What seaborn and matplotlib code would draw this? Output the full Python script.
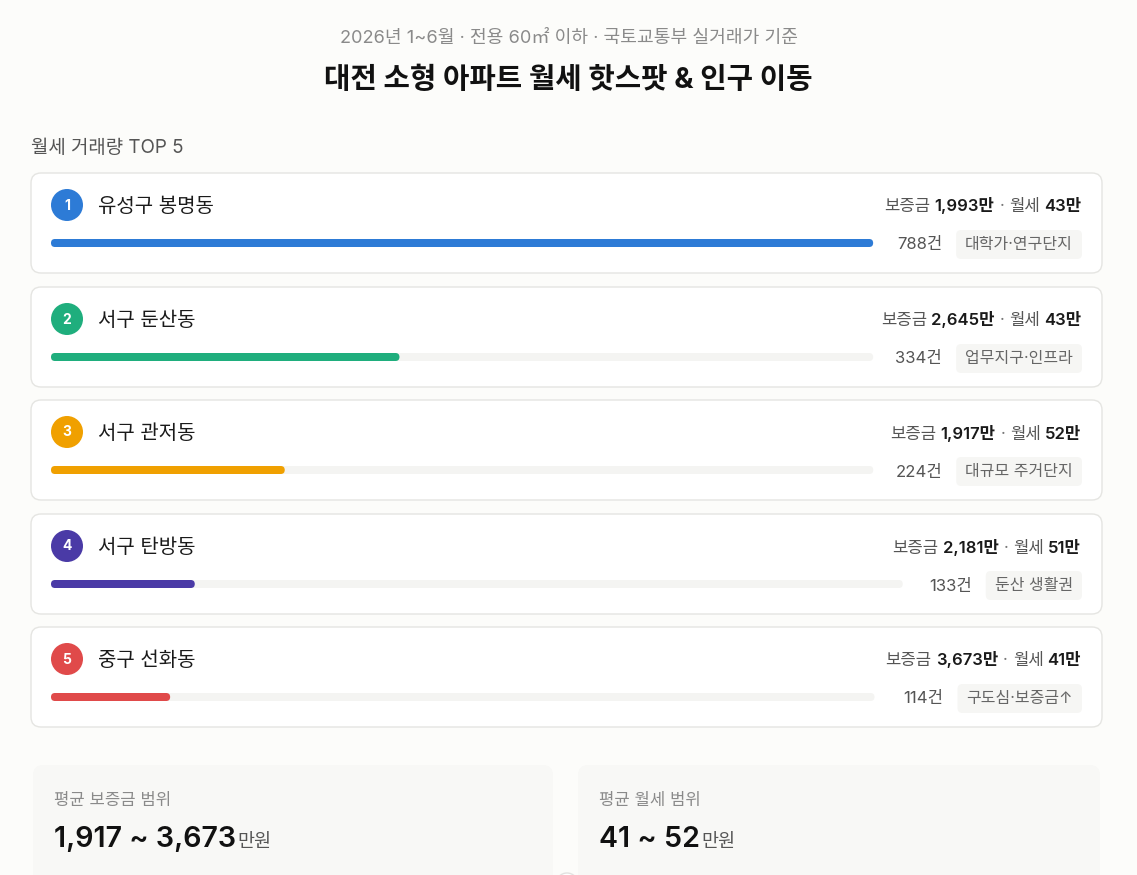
import matplotlib
matplotlib.use("Agg")
import matplotlib.pyplot as plt
from matplotlib.patches import FancyBboxPatch, Circle
import seaborn as sns

# ---------------- data ----------------
ranks = [1, 2, 3, 4, 5]
districts = ["유성구 봉명동", "서구 둔산동", "서구 관저동", "서구 탄방동", "중구 선화동"]
counts = [788, 334, 224, 133, 114]
deposits = [1993, 2645, 1917, 2181, 3673]
rents = [43, 43, 52, 51, 41]
tags = ["대학가·연구단지", "업무지구·인프라", "대규모 주거단지", "둔산 생활권", "구도심·보증금↑"]
colors = ["#2d7bd6", "#1fae7d", "#f0a000", "#4a3aa6", "#e04a4a"]

subtitle = "2026년 1~6월 · 전용 60㎡ 이하 · 국토교통부 실거래가 기준"
title = "대전 소형 아파트 월세 핫스팟 & 인구 이동"
section = "월세 거래량 TOP 5"

# ---------------- style ----------------
sns.set_theme(style="white")
plt.rcParams["font.family"] = ["Inter", "Noto Sans CJK KR", "DejaVu Sans"]

BG = "#fcfcfa"
W, H = 1137, 875
fig = plt.figure(figsize=(W / 100, H / 100), dpi=100)
fig.patch.set_facecolor(BG)
ax = fig.add_axes([0, 0, 1, 1])
ax.set_xlim(0, W)
ax.set_ylim(H, 0)
ax.axis("off")
ax.set_facecolor(BG)
renderer = fig.canvas.get_renderer()


def text_w(t):
    return t.get_window_extent(renderer).width


def rich(x, y, parts, align="right", va="baseline"):
    """parts: list of (text, color, weight, size, gap_after)"""
    if align == "right":
        cur = x
        n = len(parts)
        for i, (s, c, wt, sz, gap) in enumerate(reversed(parts)):
            t = ax.text(cur, y, s, ha="right", va=va, color=c, fontweight=wt, fontsize=sz)
            cur -= text_w(t) + (parts[n - 2 - i][4] if i < n - 1 else 0)
        return cur
    else:
        cur = x
        for s, c, wt, sz, gap in parts:
            t = ax.text(cur, y, s, ha="left", va=va, color=c, fontweight=wt, fontsize=sz)
            cur += text_w(t) + gap
        return cur


# header
ax.text(W / 2, 38, subtitle, ha="center", va="center", fontsize=13.1, color="#8a8a8a")
ax.text(W / 2, 80, title, ha="center", va="center", fontsize=20.7, color="#111111", fontweight="bold")
ax.text(31, 148, section, ha="left", va="center", fontsize=13.6, color="#555555")

card_tops = [173, 287, 400, 514, 627]
CARD_X, CARD_W, CARD_H = 31, 1071, 100
RIGHT = 1082
TRACK_X = 51
BAR_H = 8

for i in range(len(ranks)):
    top = card_tops[i]
    ax.add_patch(FancyBboxPatch((CARD_X, top), CARD_W, CARD_H,
                                boxstyle="round,pad=0,rounding_size=10",
                                facecolor="white", edgecolor="#e5e5e2", lw=1.0, zorder=1))
    # rank circle
    ax.add_patch(Circle((67, top + 32), 16, facecolor=colors[i], edgecolor="none", zorder=3))
    ax.text(67, top + 32.5, str(ranks[i]), ha="center", va="center", color="white",
            fontsize=10, fontweight="bold", zorder=4)
    ax.text(98, top + 33.5, districts[i], ha="left", va="center", fontsize=14.4,
            color="#1a1a1a", zorder=4)
    # right info
    parts = [("보증금", "#555555", "normal", 12, 4),
             (f"{deposits[i]:,}만", "#1a1a1a", "semibold", 12, 5),
             ("·", "#777777", "normal", 12, 5),
             ("월세", "#555555", "normal", 12, 4),
             (f"{rents[i]}만", "#1a1a1a", "semibold", 12, 0)]
    rich(RIGHT - 1, top + 38.5, parts, align="right")

    # tag box
    tt = ax.text(0, 0, tags[i], fontsize=11.5, color="#666666", ha="center", va="center", zorder=4)
    tw = text_w(tt) + 18
    tag_left = RIGHT - tw
    tt.set_position((tag_left + tw / 2, top + 71.5))
    ax.add_patch(FancyBboxPatch((tag_left, top + 57), tw, 29,
                                boxstyle="round,pad=0,rounding_size=5",
                                facecolor="#f6f6f4", edgecolor="none", zorder=2))
    # count
    ax.text(tag_left - 14, top + 72, f"{counts[i]}건", ha="right", va="center",
            fontsize=12, color="#555555", zorder=4)

    # bar track + value bar via seaborn
    track_end = tag_left - 83
    track_w = track_end - TRACK_X
    bax = fig.add_axes([TRACK_X / W, (H - (top + 70 + BAR_H / 2)) / H, track_w / W, BAR_H / H])
    bax.patch.set_alpha(0)
    sns.barplot(x=[counts[i]], y=[districts[i]], orient="h", color=colors[i],
                width=1.0, ax=bax, saturation=1)
    bax.set_xlim(0, max(counts))
    bax.set_ylim(0.5, -0.5)
    bax.axis("off")
    inv = ax.transData.inverted()
    # track
    ax.add_patch(FancyBboxPatch((TRACK_X, top + 70 - BAR_H / 2), track_w, BAR_H,
                                boxstyle=f"round,pad=0,rounding_size={BAR_H/2}",
                                facecolor="#f4f4f2", edgecolor="none", zorder=2))
    for p in list(bax.patches):
        bb = p.get_window_extent(renderer)
        (x0, y0), (x1, y1) = inv.transform([[bb.x0, bb.y0], [bb.x1, bb.y1]])
        ya, yb = min(y0, y1), max(y0, y1)
        ax.add_patch(FancyBboxPatch((x0, ya), x1 - x0, yb - ya,
                                    boxstyle=f"round,pad=0,rounding_size={BAR_H/2}",
                                    facecolor=colors[i], edgecolor="none", zorder=3))
        p.remove()

# bottom summary boxes
boxes = [(33, 520, "평균 보증금 범위", f"{min(deposits):,} ~ {max(deposits):,}"),
         (578, 522, "평균 월세 범위", f"{min(rents)} ~ {max(rents)}")]
for bx, bw, lab, val in boxes:
    ax.add_patch(FancyBboxPatch((bx, 765), bw, 140,
                                boxstyle="round,pad=0,rounding_size=10",
                                facecolor="#f8f8f6", edgecolor="none", zorder=1))
    ax.text(bx + 21, 800, lab, ha="left", va="center", fontsize=12, color="#8a8a8a", zorder=3)
    rich(bx + 21, 847, [(val, "#111111", "semibold", 20.6, 1),
                        ("만원", "#555555", "normal", 13.3, 0)], align="left")

ax.add_patch(Circle((567, 884), 11, facecolor="white", edgecolor="#e2e2e0", lw=1, zorder=2))

fig.savefig("out.png", dpi=100, facecolor=BG)
